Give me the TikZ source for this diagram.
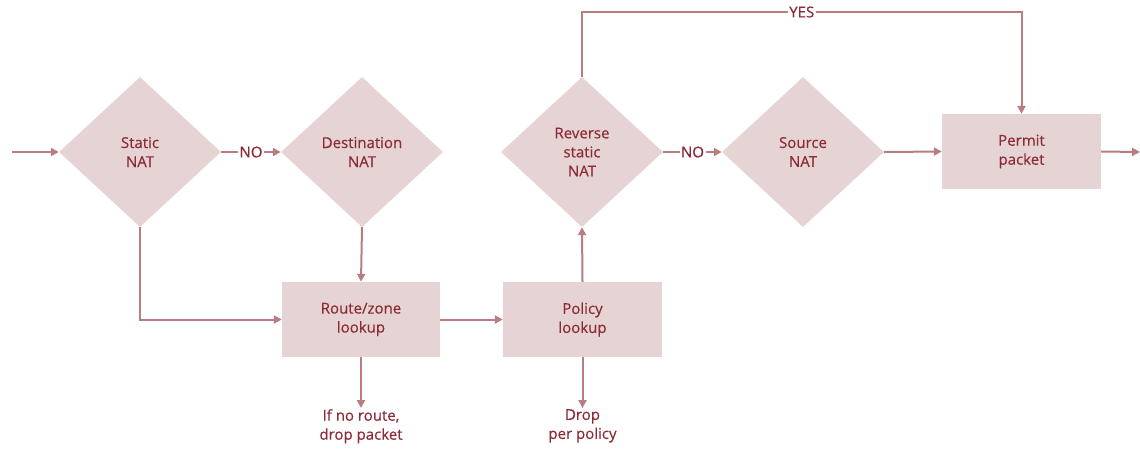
\documentclass[tikz,border=0pt]{standalone}
\usepackage{fontspec}
\setmainfont{Open Sans}
\newfontfamily\medfont[FakeBold=0.35]{Open Sans}
\usetikzlibrary{shapes.geometric,arrows.meta}
\definecolor{boxfill}{HTML}{E6D4D5}
\definecolor{linec}{HTML}{B97C81}
\definecolor{textc}{HTML}{8C2A36}
\tikzset{
  x=1pt,y=-1pt,
  every node/.style={font=\medfont\fontsize{15}{19}\selectfont, text=textc, align=center},
  decision/.style={diamond, fill=boxfill, inner sep=0pt, minimum width=162pt, minimum height=150pt},
  stepbox/.style={rectangle, fill=boxfill, inner sep=0pt, minimum width=158pt, minimum height=75pt},
  conn/.style={draw=linec, line width=2pt},
  arr/.style={conn, -{Triangle[length=8pt,width=8pt]}},
  lbl/.style={fill=white, inner sep=1.5pt},
  droptext/.style={inner sep=1pt, anchor=north}
}
\begin{document}
\begin{tikzpicture}
\useasboundingbox (0,0) rectangle (1140,448);
\node[decision] (snat) at (140,152) {Static\\NAT};
\node[decision] (dnat) at (362,152) {Destination\\NAT};
\node[decision] (rnat) at (582,152) {Reverse\\static\\NAT};
\node[decision] (srcnat) at (803,152) {Source\\NAT};
\node[stepbox, minimum width=159pt] (perm) at (1021.5,151.5) {Permit\\packet};
\node[stepbox] (route) at (361,319.5) {Route/zone\\lookup};
\node[stepbox, minimum width=159pt] (pol) at (582.5,319.5) {Policy\\lookup};
\node[droptext] (drop1) at (361,408) {If no route,\\drop packet};
\node[droptext] (drop2) at (582.5,408) {Drop\\per policy};
\coordinate (in) at (12,152);
\coordinate (out) at (1140,152);
\coordinate (ytop) at (0,12);

\draw[arr] (in) -- (snat.west);
\draw[arr] (snat.east) -- node[lbl]{NO} (dnat.west);
\draw[arr] (snat.south) |- (route.west);
\draw[arr] (dnat.south) -- (route.north);
\draw[arr] (route.east) -- (pol.west);
\draw[arr] (route.south) -- (drop1.north);
\draw[arr] (pol.south) -- (drop2.north);
\draw[arr] (pol.north) -- (rnat.south);
\draw[arr] (rnat.east) -- node[lbl]{NO} (srcnat.west);
\draw[arr] (srcnat.east) -- (perm.west);
\draw[arr] (rnat.north) |- node[lbl, pos=0.75]{YES} (perm.north |- ytop) -- (perm.north);
\draw[arr] (perm.east) -- (out);
\end{tikzpicture}
\end{document}
